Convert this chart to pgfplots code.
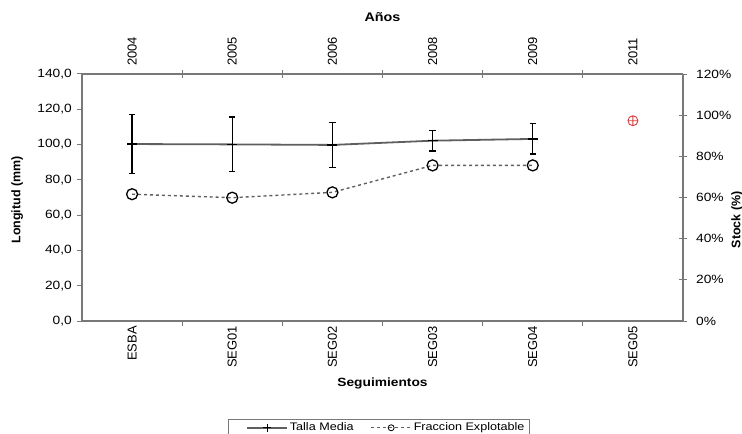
\documentclass[border=0pt]{standalone}
\usepackage{fontspec}
\setmainfont[FakeStretch=1.15]{Liberation Sans}
\newfontfamily\rotfont{Liberation Sans}
\usepackage{pgfplots}
\pgfplotsset{compat=1.18}
\definecolor{axgray}{RGB}{120,120,120}
\definecolor{linegray}{RGB}{95,95,95}
\definecolor{markred}{RGB}{225,60,60}
\begin{document}
\begin{tikzpicture}
\pgfplotsset{
  common/.style={
    width=601bp, height=247bp, scale only axis,
    xmin=-0.5, xmax=5.5,
    xtick={0,1,2,3,4,5},
    minor xtick={0.5,1.5,2.5,3.5,4.5},
    major x tick style={draw=none},
    minor x tick style={axgray, line width=1bp},
    y tick style={axgray, line width=1bp},
    axis line style={axgray, line width=1.3bp},
    x tick label style={font=\rotfont\fontsize{13}{15}\selectfont, rotate=90, inner sep=0pt},
    y tick label style={font=\fontsize{12}{14}\selectfont, inner sep=0pt},
    clip=false,
  }
}
\begin{axis}[common,
  axis x line*=bottom, axis y line*=left,
  tick align=outside, major tick length=5bp, minor tick length=5bp,
  ymin=0, ymax=140, ytick={0,20,...,140},
  yticklabels={{0,0},{20,0},{40,0},{60,0},{80,0},{100,0},{120,0},{140,0}},
  xticklabels={ESBA,SEG01,SEG02,SEG03,SEG04,SEG05},
  x tick label style={anchor=east},
  xticklabel shift=0bp,
  yticklabel shift=5bp,
  xlabel={Seguimientos},
  xlabel style={at={(axis description cs:0.5,-0.251)}, anchor=center, font=\bfseries\fontsize{12}{14}\selectfont},
  ylabel={Longitud (mm)},
  ylabel style={at={(axis description cs:-0.108,0.49)}, anchor=center, font=\rotfont\bfseries\fontsize{12.5}{14}\selectfont},
]
\addplot[linegray, line width=1.8bp, mark=+, mark size=5bp,
  mark options={black, line width=1.3bp},
  error bars/.cd, y dir=both, y explicit,
  error bar style={black, line width=1.4bp},
  error mark options={rotate=90, mark size=3.2bp, black, line width=1.4bp}]
  coordinates {
  (0,100.3) +- (0,16.7)
  (1,100.1) +- (0,15.5)
  (2,99.8)  +- (0,12.8)
  (3,102.2) +- (0,5.8)
  (4,103.2) +- (0,8.6)
  };
\end{axis}
\begin{axis}[common,
  axis x line*=top, axis y line*=right,
  tick align=center, major tick length=8bp, minor tick length=8bp,
  ymin=0, ymax=120, ytick={0,20,...,120},
  yticklabels={0\%,20\%,40\%,60\%,80\%,100\%,120\%},
  xticklabels={2004,2005,2006,2008,2009,2011},
  x tick label style={anchor=west},
  xticklabel shift=4bp,
  yticklabel shift=9bp,
  xlabel={Años},
  xlabel style={at={(axis description cs:0.5,1.231)}, anchor=center, font=\bfseries\fontsize{12.5}{14}\selectfont},
  ylabel={Stock (\%)},
  ylabel style={at={(axis description cs:1.09,0.41)}, anchor=center, font=\rotfont\bfseries\fontsize{12.5}{14}\selectfont},
  legend style={at={(axis description cs:0.494,-0.397)}, anchor=north, legend columns=2,
    draw=axgray, line width=1bp, font=\fontsize{11}{13}\selectfont, inner ysep=1.5bp, inner xsep=3bp,
    /tikz/every even column/.append style={column sep=0bp}},
  legend image code/.code={\path (-15bp,0bp); \draw[mark repeat=2,mark phase=2] plot coordinates {(0bp,0bp) (20bp,0bp) (40bp,0bp)};},
]
\addlegendimage{linegray, line width=1.5bp, mark=+, mark size=4bp, mark options={black, solid, line width=1bp}}
\addlegendentry{Talla Media}
\addlegendimage{linegray, dashed, line width=1.2bp, mark=o, mark size=3bp, mark options={black, solid, line width=0.8bp}}
\addlegendentry{Fraccion Explotable}
\addplot[forget plot, linegray, dashed, line width=1.4bp, mark=o, mark size=5.5bp,
  mark options={black, solid, line width=1.3bp}]
  coordinates {(0,61.6) (1,59.9) (2,62.5) (3,75.6) (4,75.6)};
\addplot[forget plot, only marks, mark=oplus, mark size=5bp, markred, mark options={line width=0.9bp}]
  coordinates {(5,97.3)};
\end{axis}
\pgfresetboundingbox
\useasboundingbox (-82bp,-113bp) rectangle (660bp,321bp);
\end{tikzpicture}
\end{document}
